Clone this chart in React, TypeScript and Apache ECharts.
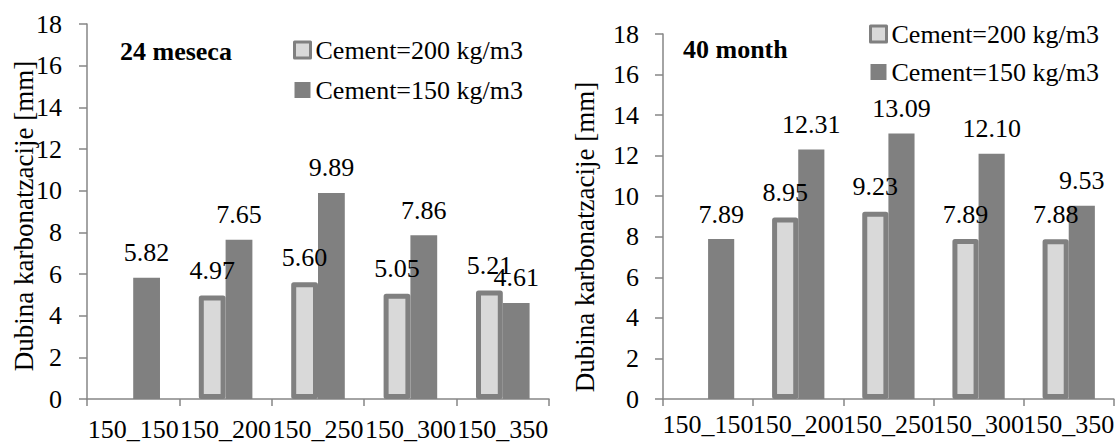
import React, { useEffect, useRef } from "react";
import * as echarts from "echarts";

const categories = ["150_150", "150_200", "150_250", "150_300", "150_350"];
const seriesNames = ["Cement=200 kg/m3", "Cement=150 kg/m3"];
const panelTitles = ["24 meseca", "40 month"];
const yAxisTitle = "Dubina karbonatzacije [mm]";

// carbonation depth, 24 months
const depth24Cem200: (number | null)[] = [null, 4.97, 5.6, 5.05, 5.21];
const depth24Cem150: (number | null)[] = [5.82, 7.65, 9.89, 7.86, 4.61];
// carbonation depth, 40 months
const depth40Cem200: (number | null)[] = [null, 8.95, 9.23, 7.89, 7.88];
const depth40Cem150: (number | null)[] = [7.89, 12.31, 13.09, 12.1, 9.53];

const yMin = 0;
const yMax = 18;
const yStep = 2;

const FONT = "Liberation Serif, Times New Roman, serif";
const AXIS = "#868686";
const DARK = "#808080";
const LIGHT = "#d9d9d9";

export default function App() {
  const ref = useRef<HTMLDivElement>(null);

  useEffect(() => {
    if (!ref.current) return;
    const chart = echarts.init(ref.current, null, { renderer: "svg" });

    const grids = [
      { left: 87, top: 24, width: 462, height: 377 },
      { left: 663, top: 34, width: 453, height: 365 },
    ];

    const xAxis = [0, 1].map((i) => ({
      type: "category",
      gridIndex: i,
      data: categories,
      axisLine: { lineStyle: { color: AXIS, width: 1.5 } },
      axisTick: { show: true, length: 7, lineStyle: { color: AXIS, width: 1.5 } },
      axisLabel: {
        interval: 0,
        margin: i === 0 ? 17 : 12,
        color: "#000",
        fontFamily: FONT,
        fontSize: 26,
      },
    }));

    const yAxis = [0, 1].map((i) => ({
      type: "value",
      gridIndex: i,
      min: yMin,
      max: yMax,
      interval: yStep,
      splitLine: { show: false },
      axisLine: { show: true, lineStyle: { color: AXIS, width: 1.5 } },
      axisTick: { show: true, length: 8, lineStyle: { color: AXIS, width: 1.5 } },
      axisLabel: {
        margin: i === 0 ? 25 : 24,
        color: "#000",
        fontFamily: FONT,
        fontSize: 26,
      },
    }));

    const label = {
      show: true,
      position: "top",
      distance: 12,
      color: "#000",
      fontFamily: FONT,
      fontSize: 26,
      formatter: (p: any) => Number(p.value).toFixed(2),
    };

    const lightStyle = {
      color: LIGHT,
      borderColor: DARK,
      borderWidth: 5,
      borderJoin: "round",
    };
    const darkStyle = { color: DARK };

    const makeSeries = (idx: number, c200: (number | null)[], c150: (number | null)[]) => [
      {
        name: seriesNames[0],
        type: "bar",
        xAxisIndex: idx,
        yAxisIndex: idx,
        data: c200,
        barGap: "0%",
        barCategoryGap: "42%",
        itemStyle: lightStyle,
        label,
      },
      {
        name: seriesNames[1],
        type: "bar",
        xAxisIndex: idx,
        yAxisIndex: idx,
        data: c150,
        barGap: "0%",
        barCategoryGap: "42%",
        itemStyle: darkStyle,
        label,
      },
    ];

    const legendBase = {
      orient: "vertical",
      padding: 0,
      itemWidth: 16,
      itemHeight: 16,
      selectedMode: false,
      textStyle: { color: "#000", fontFamily: FONT, fontSize: 26 },
      data: [
        { name: seriesNames[0], icon: "rect", itemStyle: { borderWidth: 3, borderColor: DARK, color: LIGHT } },
        { name: seriesNames[1], icon: "rect" },
      ],
    };

    chart.setOption({
      animation: false,
      backgroundColor: "#fff",
      grid: grids,
      xAxis,
      yAxis,
      legend: [
        { ...legendBase, left: 293, top: 37, itemGap: 14 },
        { ...legendBase, left: 869, top: 21, itemGap: 12 },
      ],
      graphic: [
        {
          type: "text",
          left: 120,
          top: 38,
          style: { text: panelTitles[0], fill: "#000", font: `bold 26px ${FONT}` },
        },
        {
          type: "text",
          left: 683,
          top: 36,
          style: { text: panelTitles[1], fill: "#000", font: `bold 26px ${FONT}` },
        },
        {
          type: "text",
          x: 24,
          y: 216,
          rotation: Math.PI / 2,
          style: {
            text: yAxisTitle,
            fill: "#000",
            font: `27px ${FONT}`,
            textAlign: "center",
            textVerticalAlign: "middle",
          },
        },
        {
          type: "text",
          x: 585,
          y: 237,
          rotation: Math.PI / 2,
          style: {
            text: yAxisTitle,
            fill: "#000",
            font: `27px ${FONT}`,
            textAlign: "center",
            textVerticalAlign: "middle",
          },
        },
      ],
      series: [
        ...makeSeries(0, depth24Cem200, depth24Cem150),
        ...makeSeries(1, depth40Cem200, depth40Cem150),
      ],
    });

    return () => chart.dispose();
  }, []);

  return (
    <div
      ref={ref}
      style={{ position: "fixed", left: 0, top: 0, width: 1117, height: 442 }}
    />
  );
}
